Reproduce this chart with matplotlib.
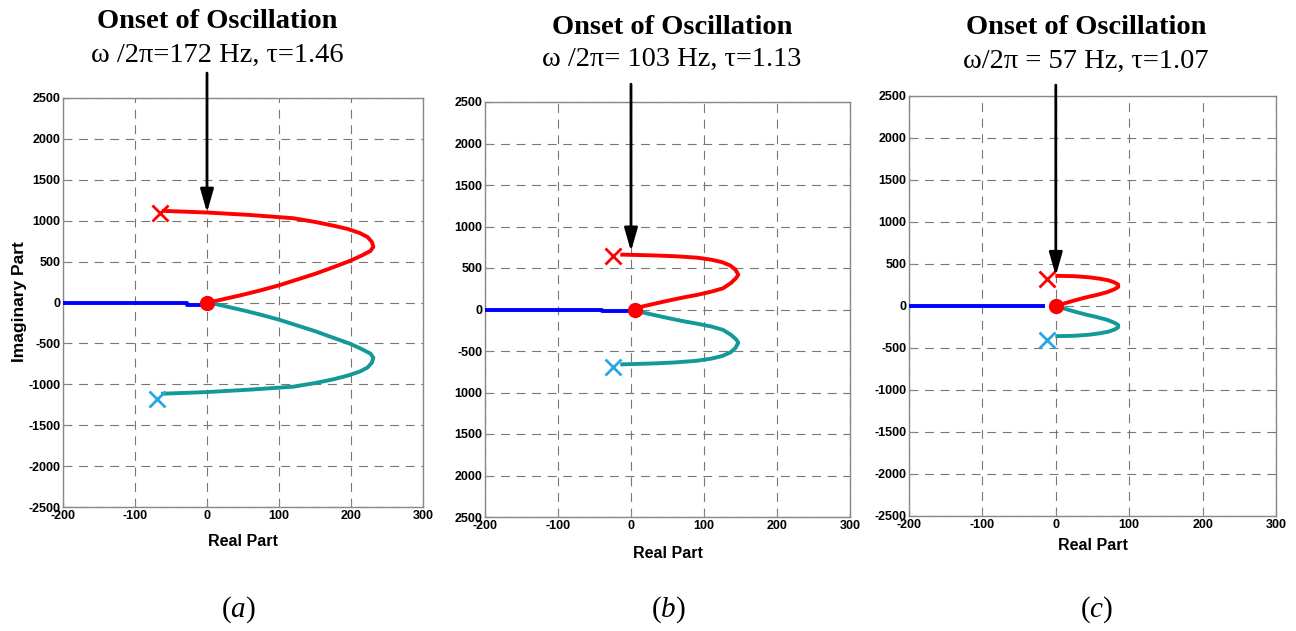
import matplotlib.pyplot as plt

plt.rcParams['mathtext.fontset'] = 'custom'
plt.rcParams['mathtext.it'] = 'Liberation Serif:italic'
plt.rcParams['mathtext.rm'] = 'Liberation Serif'

# ---- data ----
panel_names = ['a', 'b', 'c']
subtitles = ['ω /2π=172 Hz, τ=1.46', 'ω /2π= 103 Hz, τ=1.13', 'ω/2π = 57 Hz, τ=1.07']

red_a_x = [-60, 0, 60, 120, 150, 175, 195, 212, 223, 229, 231, 227, 215, 199, 175, 150, 125, 100, 75, 50, 25, 5]
red_a_y = [1120, 1100, 1070, 1030, 985, 940, 900, 850, 800, 740, 680, 630, 575, 510, 430, 350, 280, 210, 150, 95, 45, 5]
teal_a_x = [-61, 0, 60, 120, 150, 175, 195, 212, 223, 229, 231, 227, 215, 199, 175, 150, 125, 100, 75, 50, 25, 5]
teal_a_y = [-1115, -1095, -1065, -1029, -985, -940, -895, -845, -795, -735, -674, -625, -570, -505, -430, -350, -280, -210, -150, -95, -45, -5]
blue_a_x = [-200, -28, -28, 0]
blue_a_y = [0, 0, -25, -25]
xred_a = (-65, 1100)
xblue_a = (-69, -1176)
dot_a = (0, 0)
arrow_a = 1100

red_b_x = [-12, 30, 60, 90, 110, 125, 136, 143, 147, 144, 137, 126, 110, 90, 71, 50, 30, 15, 4]
red_b_y = [661, 652, 642, 625, 600, 570, 530, 480, 420, 380, 320, 255, 215, 175, 144, 105, 65, 35, 5]
teal_b_x = [-12, 30, 60, 90, 110, 125, 136, 143, 147, 144, 137, 126, 110, 90, 71, 50, 30, 15, 4]
teal_b_y = [-661, -650, -638, -618, -592, -560, -518, -465, -400, -360, -305, -245, -205, -170, -140, -102, -63, -34, -5]
blue_b_x = [-200, -40, -40, 0]
blue_b_y = [0, 0, -15, -15]
xred_b = (-25, 650)
xblue_b = (-25, -690)
dot_b = (5, -10)
arrow_b = 700

red_c_x = [2, 25, 45, 60, 72, 80, 85, 85, 80, 70, 55, 40, 25, 12, 2]
red_c_y = [359, 355, 342, 325, 305, 280, 255, 227, 200, 165, 130, 100, 65, 32, 5]
teal_c_x = [2, 25, 45, 60, 72, 80, 85, 85, 80, 70, 55, 40, 25, 12, 2]
teal_c_y = [-359, -355, -342, -325, -305, -280, -255, -227, -200, -165, -130, -100, -65, -32, -5]
blue_c_x = [-200, -15]
blue_c_y = [0, 0]
xred_c = (-12, 323)
xblue_c = (-12, -407)
dot_c = (0, 0)
arrow_c = 360

yticks = [-2500, -2000, -1500, -1000, -500, 0, 500, 1000, 1500, 2000, 2500]
ylabels_std = ['-2500', '-2000', '-1500', '-1000', '-500', '0', '500', '1000', '1500', '2000', '2500']
ylabels_b = ['2500', '2000', '1500', '1000', '-500', '0', '500', '1000', '1500', '2000', '2500']
xticks = [-200, -100, 0, 100, 200, 300]

W, H = 1296, 631
fig = plt.figure(figsize=(W / 100, H / 100), dpi=100)

# axes boxes in pixels: left, top, right, bottom
boxes = [(63, 98, 423, 507), (485, 102, 850, 517), (909, 96, 1276, 516)]
panels = [
    (red_a_x, red_a_y, teal_a_x, teal_a_y, blue_a_x, blue_a_y, xred_a, xblue_a, dot_a, arrow_a, ylabels_std),
    (red_b_x, red_b_y, teal_b_x, teal_b_y, blue_b_x, blue_b_y, xred_b, xblue_b, dot_b, arrow_b, ylabels_b),
    (red_c_x, red_c_y, teal_c_x, teal_c_y, blue_c_x, blue_c_y, xred_c, xblue_c, dot_c, arrow_c, ylabels_std),
]
title_y = [(22, 55), (27, 59), (27, 61)]
xlabel_y = [542, 553, 545]

teal = '#139a98'
tick_font = dict(family='Liberation Sans', weight='bold', size=9)

for i, (box, p) in enumerate(zip(boxes, panels)):
    l, t, r, b = box
    ax = fig.add_axes([l / W, 1 - b / H, (r - l) / W, (b - t) / H])
    rx, ry, tx, ty, bx, by, xr, xb, dot, arr_y, ylabs = p

    ax.plot(bx, by, color='blue', lw=2.8, solid_capstyle='butt', zorder=3)
    ax.plot(rx, ry, color='red', lw=2.8, solid_joinstyle='round', zorder=3)
    ax.plot(tx, ty, color=teal, lw=2.8, solid_joinstyle='round', zorder=3)
    ax.plot(*xr, marker='x', color='red', ms=11, mew=2, zorder=4)
    ax.plot(*xb, marker='x', color='#2aa6e0', ms=11, mew=2, zorder=4)
    ax.plot(*dot, marker='o', color='red', ms=10, zorder=5)

    ax.set_xlim(-200, 300)
    ax.set_ylim(-2500, 2500)
    ax.set_xticks(xticks)
    ax.set_yticks(yticks)
    ax.set_xticklabels([str(v) for v in xticks], fontdict=tick_font)
    ax.set_yticklabels(ylabs, fontdict=tick_font)
    ax.tick_params(direction='in', length=4, color='#888888', pad=2)
    ax.grid(True, color='#777777', linestyle=(0, (8, 6)), lw=0.8)
    for s in ax.spines.values():
        s.set_color('#888888')
        s.set_linewidth(1)

    top_frac = [1.061, 1.043, 1.026][i]
    ax.annotate('', xy=(0, arr_y), xycoords='data',
                xytext=(0, top_frac), textcoords=('data', 'axes fraction'),
                arrowprops=dict(arrowstyle='-|>,head_length=1.4,head_width=0.4',
                                color='black', lw=2, shrinkA=0, shrinkB=0),
                annotation_clip=False, zorder=6)

    cx = (l + r) / 2
    tcx = [217, 672, 1086][i]
    fig.text(tcx / W, 1 - title_y[i][0] / H, 'Onset of Oscillation', ha='center', va='center',
             family='Liberation Serif', weight='bold', size=20.5)
    fig.text(tcx / W, 1 - title_y[i][1] / H, subtitles[i], ha='center', va='center',
             family='Liberation Serif', size=20.5)
    fig.text(cx / W, 1 - xlabel_y[i] / H, 'Real Part', ha='center', va='center',
             family='Liberation Sans', weight='bold', size=11.5)
    lab_x = [238, 668, 1097][i]
    fig.text(lab_x / W, 1 - 610 / H, '$(\\mathit{' + panel_names[i] + '})$', ha='center', va='center',
             size=21)

fig.text(20 / W, 1 - 302 / H, 'Imaginary Part', rotation=90, ha='center', va='center',
         family='Liberation Sans', weight='bold', size=12.5)

fig.savefig('out.png', dpi=100)
